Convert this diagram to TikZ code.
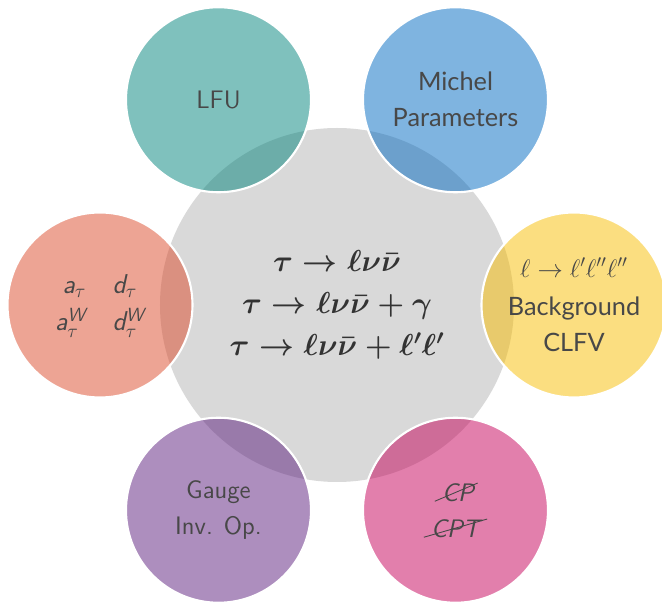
\documentclass[tikz,border=0pt]{standalone}
\usepackage{amsmath, amssymb}
\usepackage{fontspec}
\newfontfamily\latofont{Lato}
\usepackage{xcolor}
\usepackage{tikz}
\usetikzlibrary{positioning, calc}
\definecolor{lfuteal}{RGB}{0, 131, 123}
\definecolor{michelblue}{RGB}{0, 105, 193}
\definecolor{dipolered}{RGB}{219, 73, 41}
\definecolor{clfvyellow}{RGB}{247, 189, 1}
\definecolor{cpvpink}{RGB}{197, 0, 89}
\definecolor{gaugepurple}{RGB}{91, 29, 125}
\definecolor{decaygray}{RGB}{217, 217, 217}
\definecolor{labelgray}{RGB}{72, 72, 72}
\newcommand{\topicsize}{\fontsize{14.4pt}{20.5pt}\selectfont}

\begin{document}
\begin{tikzpicture}[
    topic/.style={circle, draw=white, line width=1.2pt, fill opacity=0.5, text opacity=1, minimum size=3.7cm, inner sep=0pt, align=center, text=labelgray, font=\topicsize\sffamily},
    broken/.style={inner sep=0pt, text=labelgray, font=\topicsize\sffamily\itshape}]
  \useasboundingbox (-6.74,-5.94) rectangle (6.5,6.1);
  \node[circle, fill=decaygray, minimum size=7.08cm, inner sep=0pt, align=center, text=black!80, font=\fontsize{17.28pt}{24pt}\selectfont\boldmath] (decay) at (0,0)
       {$\tau \to \ell\nu\bar{\nu}$\\$\tau \to \ell\nu\bar{\nu} + \gamma$\\$\tau \to \ell\nu\bar{\nu} + \ell'\ell'$};
  \node[topic, fill=lfuteal] (lfu) at (120:4.74) {LFU};
  \node[topic, fill=michelblue, font=\topicsize\latofont] (michel) at (60:4.74) {Michel\\Parameters};
  \node[topic, fill=clfvyellow, font=\topicsize\latofont] (clfv) at (0:4.74) {$\ell \to \ell'\ell''\ell''$\\[1.5pt]Background\\CLFV};
  \node[topic, fill=cpvpink] (cpv) at (-60:4.74) {};
  \node[topic, fill=gaugepurple] (gauge) at (-120:4.74) {Gauge\\Inv. Op.};
  \node[topic, fill=dipolered, font=\fontsize{15.5pt}{21pt}\selectfont\sffamily\itshape] (dipole) at (180:4.74)
       {\begin{tabular}{@{}r@{\hspace{15pt}}l@{}}
         a$_\tau$ & d$_\tau$\\
         a$_\tau^{\textsf{\textit{W}}}$ & d$_\tau^{\textsf{\textit{W}}}$
       \end{tabular}};
  \node[broken, anchor=base] (cp) at ($(cpv)+(0.05,0.18)$) {CP};
  \node[broken, anchor=base] (cpt) at ($(cpv)+(0,-0.54)$) {CPT};
  \draw[labelgray, line width=0.5pt] ([xshift=-4pt]cp.base west) -- ([xshift=2pt]cp.north east);
  \draw[labelgray, line width=0.5pt] ([xshift=-4pt]cpt.base west) -- ([xshift=4pt]cpt.north east);
\end{tikzpicture}
\end{document}
